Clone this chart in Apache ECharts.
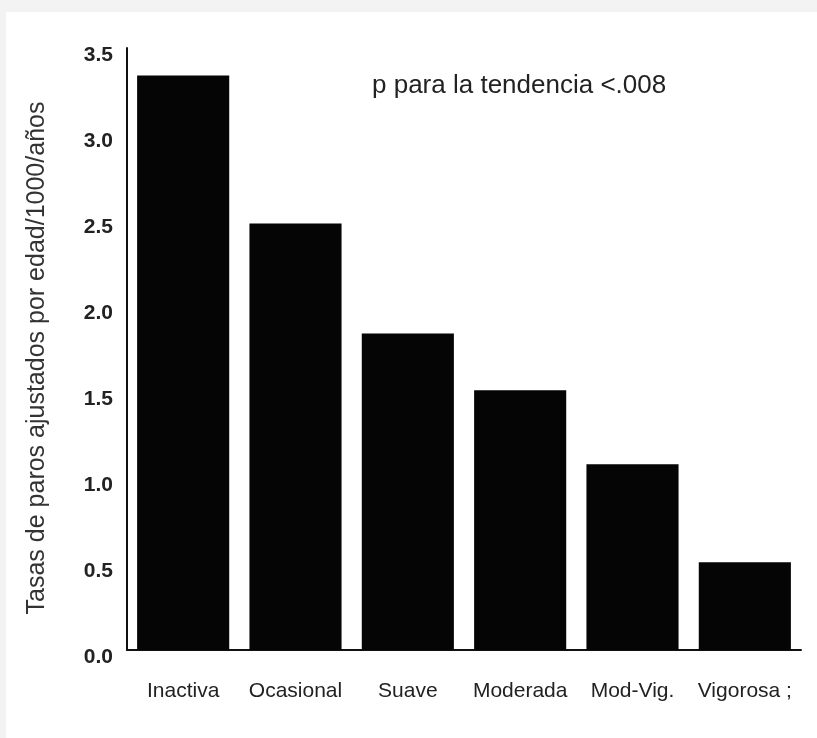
<!DOCTYPE html>
<html>
<head>
<meta charset="utf-8">
<script src="https://cdn.jsdelivr.net/npm/echarts@6/dist/echarts.min.js"></script>
<style>
  html, body { margin: 0; padding: 0; background: #f3f3f3; }
  #panel { position: absolute; left: 6px; top: 12px; width: 811px; height: 726px; background: #ffffff; }
  #chart { position: absolute; left: 0; top: 0; width: 817px; height: 738px; }
</style>
</head>
<body>
<div id="panel"></div>
<div id="chart"></div>
<script>
const categories = ['Inactiva', 'Ocasional', 'Suave', 'Moderada', 'Mod-Vig.', 'Vigorosa ;'];
const rates = [3.34, 2.48, 1.84, 1.51, 1.08, 0.51];
const yAxisTitle = 'Tasas de paros ajustados por edad/1000/años';
const annotation = 'p para la tendencia <.008';

const chart = echarts.init(document.getElementById('chart'), null, { renderer: 'canvas' });
chart.setOption({
  backgroundColor: 'transparent',
  animation: false,
  grid: { left: 127, right: 16, top: 48, bottom: 88 },
  xAxis: {
    type: 'category',
    data: categories,
    axisLine: { show: true, lineStyle: { color: '#111', width: 2 } },
    axisTick: { show: false },
    axisLabel: {
      interval: 0, hideOverlap: false,
      color: '#222', fontFamily: 'Liberation Sans', fontSize: 21, margin: 31
    }
  },
  yAxis: {
    type: 'value',
    min: 0, max: 3.5, interval: 0.5,
    axisLine: { show: true, lineStyle: { color: '#111', width: 2 } },
    axisTick: { show: false },
    splitLine: { show: false },
    axisLabel: {
      color: '#222', fontFamily: 'Liberation Sans', fontWeight: 'bold', fontSize: 21,
      margin: 14, verticalAlign: 'top', lineHeight: 14,
      formatter: v => v.toFixed(1)
    }
  },
  series: [{
    type: 'bar',
    data: rates,
    barCategoryGap: '18%',
    itemStyle: { color: '#050505' }
  }],
  graphic: [{
    type: 'text',
    left: 372, top: 73,
    style: { text: annotation, fill: '#222', font: '26px "Liberation Sans"' }
  }, {
    type: 'text',
    x: 37, y: 358,
    rotation: Math.PI / 2,
    style: {
      text: yAxisTitle, fill: '#333', font: '25px "Liberation Sans"',
      textAlign: 'center', textVerticalAlign: 'middle'
    }
  }]
});
</script>
</body>
</html>
